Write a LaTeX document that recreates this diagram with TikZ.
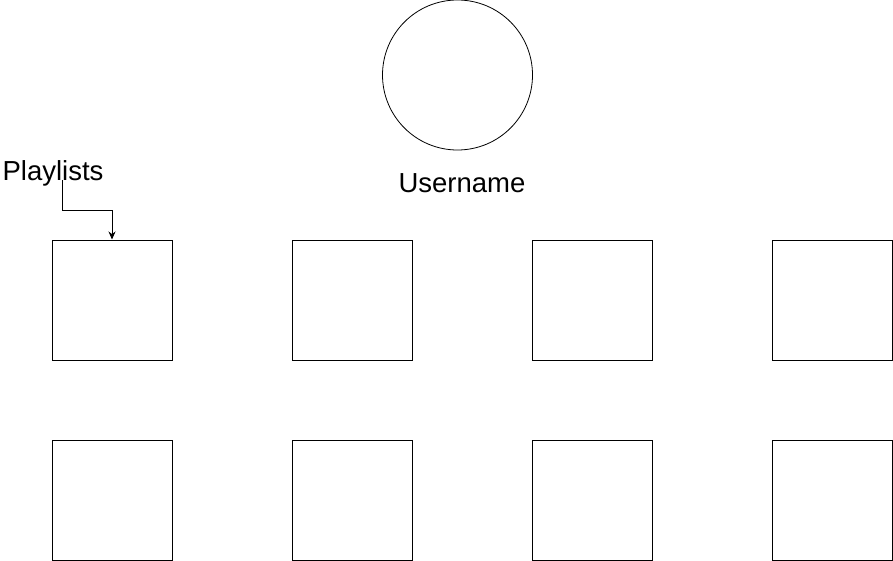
\documentclass[tikz,border=0pt]{standalone}
\usepackage{fontspec}
\setmainfont{Liberation Sans}
\usetikzlibrary{arrows.meta}
\newcommand\boxsize{120pt}
\newcommand\colsep{240}
\newcommand\rowsep{200}

\begin{document}
\begin{tikzpicture}[
    x=1pt,y=-1pt,
    arr/.style={-{Stealth[length=8pt,width=7pt]},line width=0.9pt},
    tile/.style={draw,line width=1pt,minimum size=\boxsize,inner sep=0pt},
    lbl/.style={font=\fontsize{27.5}{31}\selectfont,inner sep=0pt}
  ]
    \useasboundingbox (0,0) rectangle (893,561);

    % user
    \node[draw,circle,line width=0.8pt,minimum size=150pt,inner sep=0pt] (avatar) at (457.5,75) {};
    \node[lbl] (username) at (462,183) {Username};

    % playlists
    \node[lbl] (playlists) at (53,173) {Playlists};

    \node[tile] (p11) at (112,300) {};
    \node[tile] (p12) at (112+\colsep,300) {};
    \node[tile] (p13) at (112+2*\colsep,300) {};
    \node[tile] (p14) at (112+3*\colsep,300) {};

    \node[tile] (p21) at (112,300+\rowsep) {};
    \node[tile] (p22) at (112+\colsep,300+\rowsep) {};
    \node[tile] (p23) at (112+2*\colsep,300+\rowsep) {};
    \node[tile] (p24) at (112+3*\colsep,300+\rowsep) {};

    \coordinate (bend) at (62.5,210);
    \draw[arr] (playlists.base -| bend) -- (bend) -| (p11.north);
  \end{tikzpicture}
\end{document}
